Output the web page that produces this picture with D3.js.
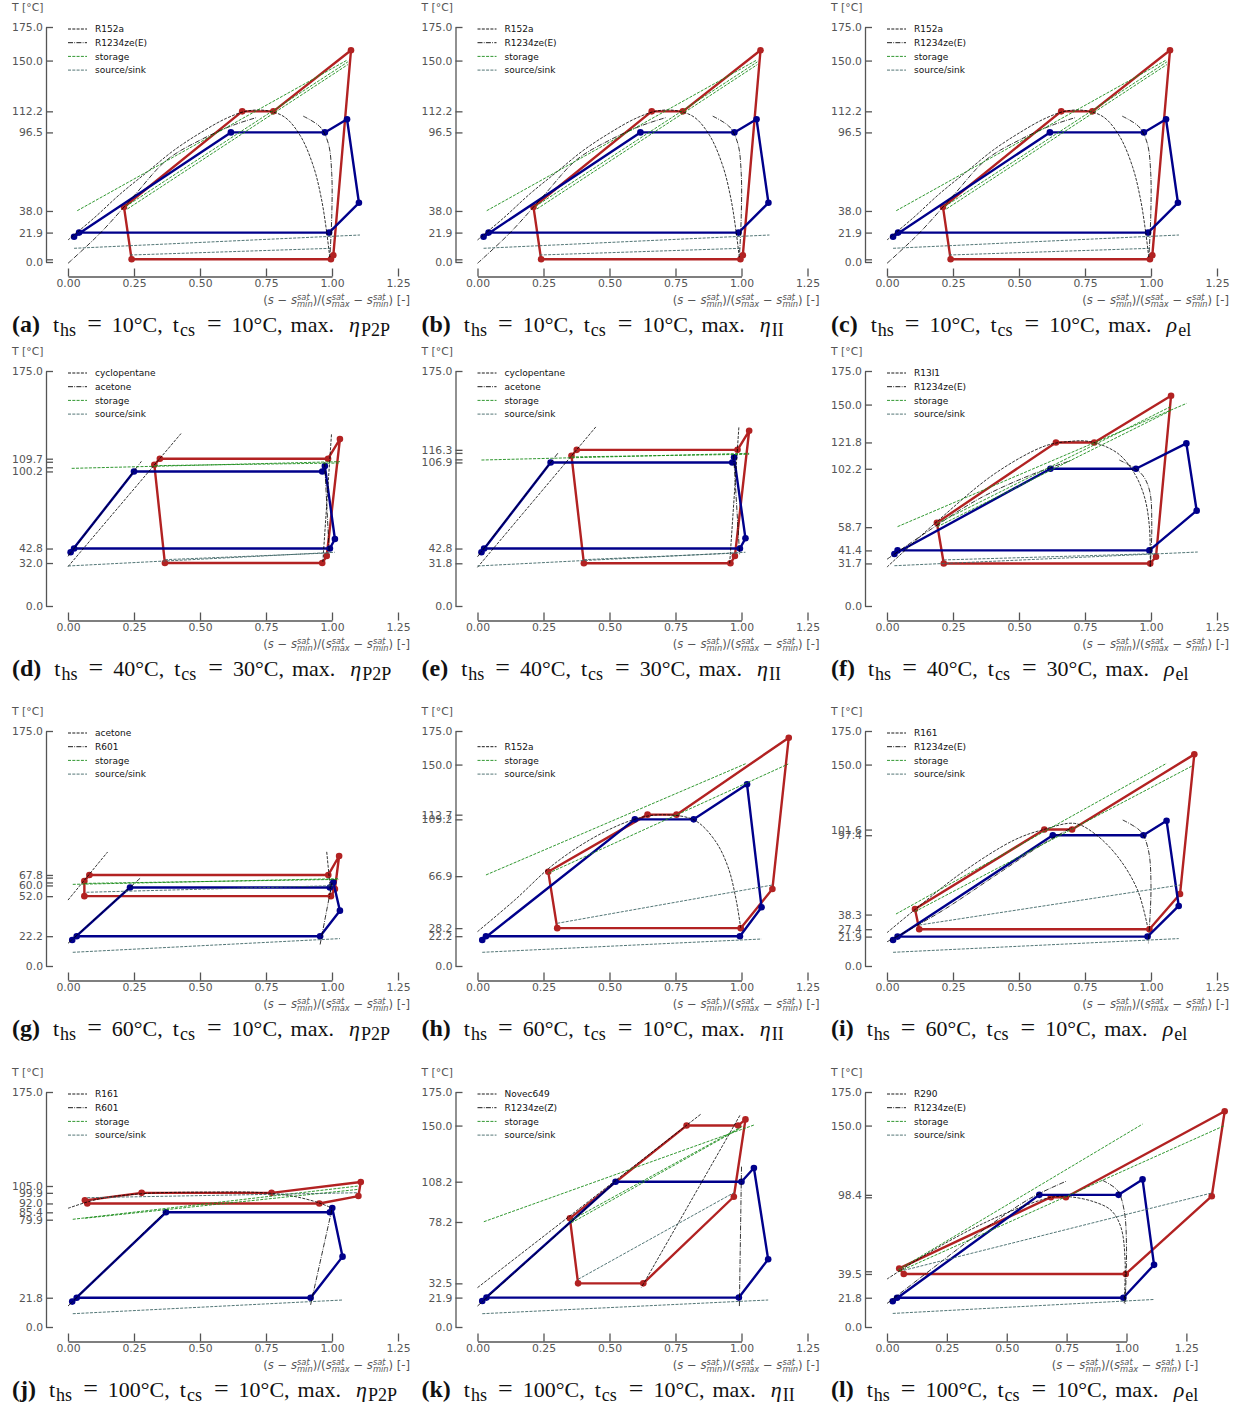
<!DOCTYPE html>
<html>
<head>
<meta charset="utf-8">
<script src="https://cdn.jsdelivr.net/npm/d3@7"></script>
<style>
  body { margin: 0; background: #fff; }
  svg { display: block; }
  text { white-space: pre; }
</style>
</head>
<body>
<svg id="fig" width="1245" height="1412"></svg>
<script>
// ---------------- data: normalized entropy s* and temperature T [°C] ----------------
// cycle polygons: heat pump (red) and ORC (blue); [s*, T]
const redA = [[0.212,41.0],[0.241,2.0],[0.996,2.0],[1.005,5.0],[1.072,157.7],[0.778,112.2],[0.660,112.2],[0.212,41.0]];
const blueA = [[0.023,18.8],[0.617,96.5],[0.973,96.5],[1.057,106.3],[1.102,44.1],[0.989,21.9],[0.042,21.9],[0.023,18.8]];
const storageA = [[[0.035,38.2],[1.056,150.2]],[[0.22,41.5],[1.06,149.0]],[[0.225,39.5],[1.06,147.0]]];
const sourceA = [[[0.023,10.2],[1.106,20.1]],[[0.235,5.2],[0.999,10.2]]];
const fluid1A = [[[0,16.4],[0.1,33],[0.2,51],[0.3,67],[0.4,83],[0.5,96],[0.6,107],[0.68,112.5],[0.75,112.8],[0.82,108],[0.88,94],[0.93,71],[0.96,47],[0.98,22],[0.992,2.7]]];
const fluid2A = [[[0,-1],[0.121,21.3],[0.247,48.6],[0.374,75.9],[0.5,90.7],[0.626,101.9],[0.715,107.6]],
                 [[0.891,108.6],[0.955,100.6],[0.986,88.3],[0.999,65.9],[0.999,33.7],[0.992,4.0]]];
const ticksA = [0,21.9,38.0,96.5,112.2,150.0,175.0];
const extraA = [2.0];

const redD = [[0.327,105.2],[0.348,109.7],[0.985,109.7],[1.030,124.3],[0.980,37.2],[0.963,32.0],[0.367,32.0],[0.327,105.2]];
const blueD = [[0.010,40.0],[0.25,100.2],[0.963,100.2],[0.973,104.2],[1.011,49.9],[0.992,42.8],[0.023,42.8],[0.010,40.0]];
const storageD = [[[0.014,102.5],[1.03,107.5]],[[0.33,104.5],[1.03,106.5]]];
const sourceD = [[[0.0,29.8],[1.011,40.0]],[[0.367,34.5],[0.99,39.5]]];
const fluid1D = [[[0,29.3],[0.428,128.4]],[[0.998,127.8],[0.965,32.0]]];
const fluid2D = [[[0,37.0],[0.278,107.7]],[[0.972,107.0],[0.99,38.0]]];
const ticksD = [0,32.0,42.8,100.2,109.7,175.0];
const extraD = [103.3,107.4];

const redE = [[0.356,111.9],[0.376,116.3],[0.985,116.3],[1.029,130.5],[0.975,37.2],[0.958,31.8],[0.403,31.8],[0.356,111.9]];
const blueE = [[0.015,40.0],[0.277,106.9],[0.965,106.9],[0.972,110.7],[1.015,50.4],[0.994,42.8],[0.025,42.8],[0.015,40.0]];
const storageE = [[[0.015,108.7],[1.029,113.7]],[[0.356,111.0],[1.029,113.0]]];
const sourceE = [[[0,29.8],[1.015,40.0]],[[0.403,34.5],[0.99,39.5]]];
const fluid1E = [[[0,28.8],[0.451,134.0]],[[0.99,133.0],[0.955,31.0]]];
const fluid2E = [[[0,36.7],[0.306,114.2]],[[0.97,112.5],[0.993,38.0]]];
const ticksE = [0,31.8,42.8,106.9,116.3,175.0];
const extraE = [109.2,114.0];

const redF = [[0.189,62.0],[0.215,31.7],[0.997,31.7],[1.019,36.7],[1.076,156.6],[0.785,121.8],[0.640,121.8],[0.189,62.0]];
const blueF = [[0.028,38.7],[0.619,102.2],[0.943,102.2],[1.134,121.1],[1.173,71.0],[0.994,41.4],[0.040,41.4],[0.028,38.7]];
const storageF = [[[0.04,59.1],[1.135,150.9]],[[0.19,61.5],[1.075,148.5]],[[0.19,59.0],[1.075,145.5]]];
const sourceF = [[[0.028,30.0],[1.177,40.2]],[[0.215,34.3],[1.019,39.0]]];
const fluid1F = [[[0,29],[0.19,63],[0.41,98.8],[0.596,119],[0.684,122.4],[0.77,122.4],[0.874,113.7],[0.937,98.8],[0.975,81.4],[0.994,59],[0.997,29.3]]];
const fluid2F = [[[0,34.8],[0.15,55],[0.35,80],[0.55,98],[0.70,108.5]],[[0.88,108.7],[0.962,98.8],[0.994,86.4],[1.003,59.1],[0.997,29.3]]];
const ticksF = [0,31.7,41.4,58.7,102.2,121.8,150.0,175.0];
const extraF = [];

const redG = [[0.081,67.8],[0.986,67.8],[1.027,81.9],[1.011,57.3],[0.996,52.0],[0.062,52.0],[0.062,63.3],[0.081,67.8]];
const blueG = [[0.016,19.4],[0.235,58.5],[0.992,58.5],[1.005,62.3],[1.030,41.2],[0.955,22.2],[0.033,22.2],[0.016,19.4]];
const storageG = [[[0.018,60.8],[1.024,65.0]],[[0.062,61.5],[1.024,64.5]]];
const sourceG = [[[0.018,10.2],[1.030,20.4]],[[0.07,54.9],[1.005,59.8]]];
const fluid1G = [[[0,49.1],[0.150,84.9]],[[0.98,85.0],[0.995,55.0]]];
const fluid2G = [[[0,16.9],[0.273,65.3]],[[0.955,16.0],[1.0,62.0]]];
const ticksG = [0,22.2,52.0,60.0,67.8,175.0];
const extraG = [62.2,65.8];

const redH = [[0.268,70.2],[0.302,28.2],[0.997,28.2],[1.117,57.3],[1.179,170.0],[0.754,112.7],[0.644,112.7],[0.268,70.2]];
const blueH = [[0.018,19.4],[0.596,109.2],[0.819,109.2],[1.021,135.3],[1.076,43.7],[0.994,22.2],[0.032,22.2],[0.018,19.4]];
const storageH = [[[0.032,67.8],[1.019,150.9]],[[0.268,69.0],[1.177,150.4]]];
const sourceH = [[[0.018,10.2],[1.076,20.1]],[[0.302,31.8],[1.117,60.3]]];
const fluid1H = [[[0,25.6],[0.141,49.1],[0.293,76.4],[0.47,98.8],[0.621,110.7],[0.722,112.5],[0.823,108.5],[0.899,93.6],[0.949,73.7],[0.98,48.9],[0.997,28.2]]];
const fluid2H = [];
const ticksH = [0,22.2,28.2,66.9,109.2,112.7,150.0,175.0];
const extraH = [];

const redI = [[0.106,42.4],[0.122,27.4],[0.994,27.4],[1.110,53.6],[1.164,157.6],[0.701,101.6],[0.596,101.6],[0.106,42.4]];
const blueI = [[0.023,19.4],[0.628,97.4],[0.971,97.4],[1.059,108.2],[1.105,44.7],[0.987,21.9],[0.040,21.9],[0.023,19.4]];
const storageI = [[[0.034,38.7],[1.059,150.9]],[[0.106,40.5],[1.158,149.2]]];
const sourceI = [[[0.023,10.2],[1.105,20.4]],[[0.122,30.5],[1.110,60.3]]];
const fluid1I = [[[0,24.8],[0.104,41.7],[0.280,69],[0.482,93.8],[0.596,101.8],[0.71,106.2],[0.785,98.8],[0.874,81.4],[0.949,56.6],[0.987,29.3]]];
const fluid2I = [[[0,18],[0.2,40],[0.4,66],[0.6,92],[0.7,103]],[[0.893,108.7],[0.962,100],[0.99,86.4],[1.0,59.1],[0.99,16.9]]];
const ticksI = [0,21.9,27.4,38.3,97.4,101.6,150.0,175.0];
const extraI = [];

const redJ = [[0.064,94.3],[0.279,99.9],[0.771,99.9],[1.109,108.0],[1.100,97.5],[0.952,92.0],[0.073,92.0],[0.064,94.3]];
const blueJ = [[0.016,18.9],[0.371,85.4],[0.992,85.4],[1.001,88.6],[1.040,52.4],[0.919,21.8],[0.033,21.8],[0.016,18.9]];
const storageJ = [[[0.018,80.2],[1.100,105.0]],[[0.064,81.0],[1.100,102.5]]];
const sourceJ = [[[0.018,9.9],[1.040,20.1]],[[0.073,96.3],[1.100,100.0]]];
const fluid1J = [[[0,88.4],[0.12,95.5],[0.30,99.5],[0.55,100.5],[0.72,100.2],[0.85,97.5],[0.95,92.5],[1.0,88.5]]];
const fluid2J = [[[0,15.6],[0.37,86.0]],[[0.919,16.5],[1.0,88.0]]];
const ticksJ = [0,21.8,79.9,85.4,92.0,99.9,105.0,175.0];
const extraJ = [];

const redK = [[0.350,80.9],[0.792,150.0],[0.987,150.0],[1.015,154.6],[0.971,97.0],[0.628,32.5],[0.381,32.5],[0.350,80.9]];
const blueK = [[0.018,19.4],[0.523,108.2],[1.000,108.2],[1.047,118.4],[1.101,50.4],[0.990,21.9],[0.034,21.9],[0.018,19.4]];
const storageK = [[[0.024,78.4],[1.047,150.4]],[[0.350,79.0],[1.006,149.7]],[[0.355,77.5],[0.995,148.0]]];
const sourceK = [[[0.018,9.9],[1.101,20.1]],[[0.381,35.5],[0.971,100.0]]];
const fluid1K = [[[0,29.3],[0.848,158.8]],[[0.994,157.6],[0.621,29.5]]];
const fluid2K = [[[0,15.6],[0.523,108.2]],[[1.0,119.4],[0.992,15.6]]];
const ticksK = [0,21.9,32.5,78.2,108.2,150.0,175.0];
const extraK = [];

const redL = [[0.051,43.6],[0.684,96.6],[0.747,96.6],[1.410,160.7],[1.356,97.4],[0.997,39.5],[0.070,39.5],[0.051,43.6]];
const blueL = [[0.024,19.2],[0.636,98.4],[0.967,98.4],[1.067,109.9],[1.115,46.3],[0.987,21.8],[0.042,21.8],[0.024,19.2]];
const storageL = [[[0.047,42.6],[1.067,151.1]],[[0.051,41.4],[1.408,149.9]]];
const sourceL = [[[0.024,10.1],[1.115,20.5]],[[0.070,42.2],[1.356,99.8]]];
const fluid1L = [[[0,35.7],[0.2,58],[0.4,77],[0.6,92],[0.7,97],[0.768,96.9],[0.865,93.2],[0.935,87],[0.976,74.7],[0.994,50],[0.99,16.8]]];
const fluid2L = [[[0,17.5],[0.2,45],[0.4,72],[0.6,96],[0.75,108.7]],[[0.9,109.2],[0.962,101.8],[0.99,87],[1.0,59.9],[0.994,16.8]]];
const ticksL = [0,21.8,39.5,98.4,150.0,175.0];
const extraL = [41.5,96.6];

// legend names of working fluids (dashed, dash-dot)
const fluidNames = [
  ["R152a","R1234ze(E)"],["R152a","R1234ze(E)"],["R152a","R1234ze(E)"],
  ["cyclopentane","acetone"],["cyclopentane","acetone"],["R13I1","R1234ze(E)"],
  ["acetone","R601"],["R152a"],["R161","R1234ze(E)"],
  ["R161","R601"],["Novec649","R1234ze(Z)"],["R290","R1234ze(E)"]
];
const panelLetters = ["a","b","c","d","e","f","g","h","i","j","k","l"];
const hotSourceTemps = [10,10,10,40,40,40,60,60,60,100,100,100];
const coldSinkTemps = [10,10,10,30,30,30,10,10,10,10,10,10];
const objectiveSymbols = ["η","η","ρ","η","η","ρ","η","η","ρ","η","η","ρ"];
const objectiveSubs = ["P2P","II","el","P2P","II","el","P2P","II","el","P2P","II","el"];
const xTickValues = [0,0.25,0.5,0.75,1.0,1.25];

const panels = [
  {red:redA, blue:blueA, storage:storageA, source:sourceA, f1:fluid1A, f2:fluid2A, ticks:ticksA, extra:extraA},
  {red:redA, blue:blueA, storage:storageA, source:sourceA, f1:fluid1A, f2:fluid2A, ticks:ticksA, extra:extraA},
  {red:redA, blue:blueA, storage:storageA, source:sourceA, f1:fluid1A, f2:fluid2A, ticks:ticksA, extra:extraA},
  {red:redD, blue:blueD, storage:storageD, source:sourceD, f1:fluid1D, f2:fluid2D, ticks:ticksD, extra:extraD},
  {red:redE, blue:blueE, storage:storageE, source:sourceE, f1:fluid1E, f2:fluid2E, ticks:ticksE, extra:extraE},
  {red:redF, blue:blueF, storage:storageF, source:sourceF, f1:fluid1F, f2:fluid2F, ticks:ticksF, extra:extraF},
  {red:redG, blue:blueG, storage:storageG, source:sourceG, f1:fluid1G, f2:fluid2G, ticks:ticksG, extra:extraG},
  {red:redH, blue:blueH, storage:storageH, source:sourceH, f1:fluid1H, f2:fluid2H, ticks:ticksH, extra:extraH},
  {red:redI, blue:blueI, storage:storageI, source:sourceI, f1:fluid1I, f2:fluid2I, ticks:ticksI, extra:extraI},
  {red:redJ, blue:blueJ, storage:storageJ, source:sourceJ, f1:fluid1J, f2:fluid2J, ticks:ticksJ, extra:extraJ},
  {red:redK, blue:blueK, storage:storageK, source:sourceK, f1:fluid1K, f2:fluid2K, ticks:ticksK, extra:extraK},
  {red:redL, blue:blueL, storage:storageL, source:sourceL, f1:fluid1L, f2:fluid2L, ticks:ticksL, extra:extraL}
];

// ---------------- layout & style ----------------
const colX = [68, 477.5, 887];          // pixel of s* = 0 in each column
const rowTop = [27, 371, 731, 1092];    // pixel of T = 175 in each row
const plotH = 235;
const unitPx = i => (i === 11 ? 239.5 : 264);

const SANS = "DejaVu Sans";
const SERIF = "Liberation Serif";
const AXIS_GREY = "#555";
const RED = "#b22222", BLUE = "#00008b";
const GREEN = "#1a8c1a", SLATE = "#3f6666";
const DASH = "3,1.3", DASHDOT = "5,1.3,0.8,1.3";

const svg = d3.select("#fig");

// sequential text pieces (optional gap before a piece, stacked sub/superscripts)
function richText(parent, parts, baseSize, family, fill) {
  const g = parent.append("g");
  let cursor = 0, lastStart = 0, lastW = 0;
  parts.forEach(p => {
    const t = g.append("text")
      .attr("y", p.dy || 0)
      .style("font-family", family)
      .style("font-size", (p.size || baseSize) + "px")
      .style("fill", fill)
      .text(p.t);
    if (p.it) t.style("font-style", "italic");
    if (p.bold) t.style("font-weight", "bold");
    const w = t.node().getComputedTextLength();
    if (p.stack) {
      t.attr("x", lastStart);
      const adv = Math.max(w, lastW);
      cursor = lastStart + adv; lastW = adv;
    } else {
      cursor += p.gap || 0;
      t.attr("x", cursor);
      lastStart = cursor; lastW = w; cursor += w;
    }
  });
  return { g, width: cursor };
}

function styleAxis(sel) {
  sel.selectAll(".domain").attr("stroke", AXIS_GREY).attr("stroke-width", 1.3);
  sel.selectAll(".tick line").attr("stroke", AXIS_GREY).attr("stroke-width", 1.3);
  sel.selectAll(".tick text").style("font-family", SANS).style("font-size", "10.8px").attr("fill", AXIS_GREY);
}

function drawPanel(p, i) {
  const col = i % 3, row = Math.floor(i / 3);
  const x0 = colX[col], top = rowTop[row];
  const x = d3.scaleLinear().domain([0, 1]).range([x0, x0 + unitPx(i)]);
  const y = d3.scaleLinear().domain([0, 175]).range([top + plotH, top]);
  const g = svg.append("g");

  // y axis (offset spine, inward ticks)
  const ySpine = x0 - 22;
  const ya = g.append("g").attr("transform", `translate(${ySpine},0)`)
    .call(d3.axisLeft(y).tickValues(p.ticks).tickFormat(d3.format(".1f"))
      .tickSizeInner(-7).tickSizeOuter(0).tickPadding(3));
  styleAxis(ya);
  if (p.extra.length) {
    const ye = g.append("g").attr("transform", `translate(${ySpine},0)`)
      .call(d3.axisLeft(y).tickValues(p.extra).tickFormat("").tickSizeInner(-7).tickSizeOuter(0));
    ye.select(".domain").remove();
    styleAxis(ye);
  }

  // x axis (offset spine, inward ticks)
  const xSpine = top + plotH + 14.5;
  const xa = g.append("g").attr("transform", `translate(0,${xSpine})`)
    .call(d3.axisBottom(x).tickValues(xTickValues).tickFormat(d3.format(".2f"))
      .tickSizeInner(-8).tickSizeOuter(0).tickPadding(3));
  styleAxis(xa);

  // axis titles
  g.append("text").attr("x", x0 - 56).attr("y", top - 20).attr("dy", "0.35em")
    .style("font-family", SANS).style("font-size", "10.8px").attr("fill", AXIS_GREY).text("T [°C]");

  const sm = 8.3;
  const xl = richText(g, [
    {t:"("}, {t:"s", it:true}, {t:" − "}, {t:"s", it:true},
    {t:"min", it:true, size:sm, dy:2.8}, {t:"sat", it:true, size:sm, dy:-4.4, stack:true},
    {t:")/("}, {t:"s", it:true},
    {t:"max", it:true, size:sm, dy:2.8}, {t:"sat", it:true, size:sm, dy:-4.4, stack:true},
    {t:" − "}, {t:"s", it:true},
    {t:"min", it:true, size:sm, dy:2.8}, {t:"sat", it:true, size:sm, dy:-4.4, stack:true},
    {t:") [-]"}
  ], 11.6, SANS, AXIS_GREY);
  xl.g.attr("transform", `translate(${x(1.25) + 12 - xl.width},${top + plotH + 42})`);

  // cycles
  const line = d3.line().x(d => x(d[0])).y(d => y(d[1]));
  [[p.red, RED], [p.blue, BLUE]].forEach(([pts, c]) => {
    g.append("path").attr("d", line(pts)).attr("fill", "none")
      .attr("stroke", c).attr("stroke-width", 2.4).attr("stroke-linejoin", "round");
    g.selectAll(null).data(pts.slice(0, -1)).enter().append("circle")
      .attr("cx", d => x(d[0])).attr("cy", d => y(d[1])).attr("r", 3.3).attr("fill", c);
  });

  // saturation domes and reservoir lines
  const curve = d3.line().x(d => x(d[0])).y(d => y(d[1])).curve(d3.curveCatmullRom.alpha(0.5));
  const dashed = (segs, color, dash, w) => segs.forEach(s =>
    g.append("path").attr("d", curve(s)).attr("fill", "none")
      .attr("stroke", color).attr("stroke-width", w).attr("stroke-dasharray", dash));
  dashed(p.f1, "#000", DASH, 0.8);
  dashed(p.f2, "#000", DASHDOT, 0.8);
  dashed(p.storage, GREEN, DASH, 0.9);
  dashed(p.source, SLATE, DASH, 0.9);

  // legend
  const entries = fluidNames[i].map((n, k) => ({ name: n, color: "#000", dash: k === 0 ? DASH : DASHDOT }))
    .concat([{ name: "storage", color: GREEN, dash: DASH }, { name: "source/sink", color: SLATE, dash: DASH }]);
  const startRow = 4 - entries.length;
  entries.forEach((e, k) => {
    const ly = top + 2 + (startRow + k) * 13.7;
    g.append("line").attr("x1", x0).attr("x2", x0 + 19).attr("y1", ly).attr("y2", ly)
      .attr("stroke", e.color).attr("stroke-width", 0.9).attr("stroke-dasharray", e.dash);
    g.append("text").attr("x", x0 + 27).attr("y", ly).attr("dy", "0.35em")
      .style("font-family", SANS).style("font-size", "9px").attr("fill", "#111").text(e.name);
  });

  // caption
  const cs = 22, sub = 18;
  richText(g, [
    {t:"(" + panelLetters[i] + ")", bold:true, size:24},
    {t:"t", gap:13}, {t:"hs", size:sub, dy:4.5, gap:1},
    {t:"=", size:26, dy:0.8, gap:11}, {t:hotSourceTemps[i] + "°C,", gap:10},
    {t:"t", gap:10}, {t:"cs", size:sub, dy:4.5, gap:1},
    {t:"=", size:26, dy:0.8, gap:12}, {t:coldSinkTemps[i] + "°C,", gap:10},
    {t:"max.", gap:8},
    {t:objectiveSymbols[i], it:true, gap:15}, {t:objectiveSubs[i], size:sub, dy:4.5, gap:1}
  ], cs, SERIF, "#111").g.attr("transform", `translate(${x0 - 56},${top + plotH + 69.5})`);
}

panels.forEach(drawPanel);
</script>
</body>
</html>
